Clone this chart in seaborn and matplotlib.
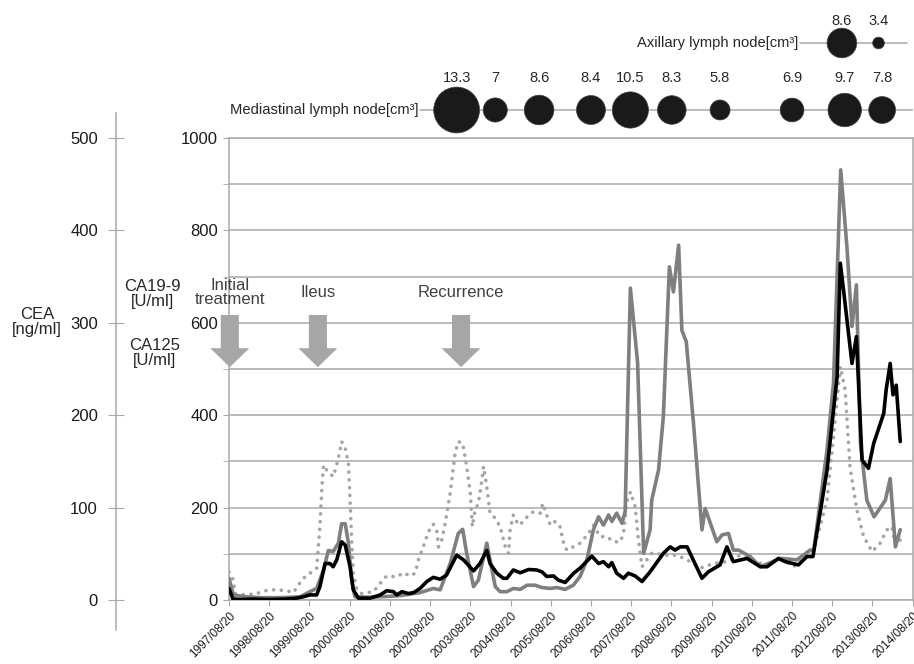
import seaborn as sns
import matplotlib.pyplot as plt

# time axis: years since the first visit (1997/08/20)
t_ca199 = [0.00, 0.11, 0.40, 0.80, 1.20, 1.60, 1.77, 2.01, 2.18, 2.35, 2.47, 2.59, 2.72, 2.80, 2.89, 2.97,
           3.05, 3.13, 3.50, 4.00, 4.30, 4.75, 5.08, 5.25, 5.50, 5.70, 5.81, 5.91, 6.08, 6.20, 6.41, 6.49,
           6.62, 6.74, 6.91, 7.07, 7.24, 7.41, 7.61, 7.78, 7.99, 8.15, 8.36, 8.56, 8.73, 8.90, 9.06, 9.19,
           9.31, 9.44, 9.52, 9.64, 9.77, 9.85, 9.98, 10.16, 10.31, 10.47, 10.51, 10.68, 10.80, 10.95, 11.05,
           11.18, 11.26, 11.37, 11.55, 11.76, 11.84, 12.13, 12.26, 12.42, 12.54, 12.67, 12.96, 13.21, 13.71,
           14.12, 14.45, 14.54, 14.87, 15.03, 15.21, 15.37, 15.49, 15.60, 15.70, 15.86, 16.04, 16.32, 16.44,
           16.57, 16.69]
ca199 = [47, 11, 7, 5, 5, 6, 7, 18, 25, 65, 107, 105, 123, 165, 165, 123,
         43, 7, 6, 8, 10, 16, 25, 22, 79, 144, 153, 101, 29, 43, 123, 87,
         29, 18, 18, 25, 23, 32, 32, 27, 25, 27, 23, 32, 51, 87, 152, 180,
         162, 184, 170, 188, 166, 191, 675, 513, 101, 152, 216, 281, 397, 721, 667,
         768, 584, 559, 382, 152, 198, 126, 141, 144, 108, 108, 94, 72, 90,
         87, 108, 108, 325, 469, 931, 758, 592, 682, 339, 216, 180, 216, 263,
         115, 152]

t_ca125 = [0.00, 0.11, 0.15, 0.40, 0.69, 0.98, 1.20, 1.44, 1.60, 1.72, 1.85, 2.06, 2.18, 2.26, 2.31, 2.35,
           2.43, 2.51, 2.59, 2.64, 2.72, 2.80, 2.89, 2.97, 3.01, 3.05, 3.09, 3.18, 3.30, 3.59, 3.76, 3.92,
           4.17, 4.34, 4.50, 4.63, 4.71, 4.83, 4.96, 5.08, 5.17, 5.21, 5.29, 5.37, 5.50, 5.62, 5.70, 5.81,
           5.91, 6.00, 6.05, 6.12, 6.20, 6.29, 6.33, 6.41, 6.49, 6.62, 6.74, 6.87, 6.95, 6.99, 7.07, 7.20,
           7.32, 7.45, 7.57, 7.74, 7.80, 7.90, 7.99, 8.11, 8.23, 8.32, 8.40, 8.56, 8.73, 8.94, 9.06, 9.23,
           9.40, 9.56, 9.73, 9.81, 9.89, 9.98, 10.10, 10.18, 10.27, 10.39, 10.51, 10.64, 10.80, 11.14, 11.39,
           11.72, 12.05, 12.38, 12.71, 13.04, 13.38, 13.71, 14.04, 14.37, 14.54, 14.87, 15.03, 15.20, 15.32,
           15.44, 15.61, 15.78, 15.99, 16.19, 16.36, 16.48, 16.57, 16.69]
ca125 = [61, 43, 14, 11, 14, 22, 22, 20, 16, 32, 47, 61, 69, 159, 245, 292,
         281, 274, 267, 281, 307, 343, 328, 296, 216, 130, 58, 22, 14, 18, 36, 52,
         50, 59, 52, 58, 87, 115, 148, 164, 148, 115, 130, 164, 231, 317, 343, 339,
         289, 231, 159, 195, 209, 260, 289, 245, 188, 177, 159, 115, 101, 152, 184, 162,
         170, 184, 191, 188, 209, 184, 162, 170, 159, 123, 108, 115, 123, 144, 162, 137,
         137, 126, 126, 144, 213, 234, 202, 130, 72, 87, 101, 101, 97, 97, 87,
         69, 79, 83, 97, 83, 76, 90, 72, 101, 108, 216, 353, 505, 455,
         289, 195, 137, 105, 123, 152, 159, 119, 130]

t_cea = [0.00, 0.10, 0.30, 0.60, 1.00, 1.40, 1.68, 1.85, 2.01, 2.18, 2.26, 2.39, 2.51, 2.59, 2.68, 2.80,
         2.89, 3.01, 3.09, 3.22, 3.51, 3.76, 3.92, 4.09, 4.17, 4.30, 4.46, 4.59, 4.75, 4.92, 5.08, 5.25,
         5.41, 5.66, 5.83, 6.08, 6.24, 6.41, 6.49, 6.66, 6.82, 6.91, 7.07, 7.24, 7.45, 7.65, 7.78, 7.90,
         8.07, 8.19, 8.36, 8.57, 8.73, 9.02, 9.19, 9.31, 9.44, 9.52, 9.64, 9.81, 9.93, 10.10, 10.27, 10.47,
         10.80, 10.97, 11.09, 11.22, 11.39, 11.76, 11.92, 12.21, 12.38, 12.54, 12.88, 13.21, 13.38, 13.66,
         13.83, 14.16, 14.37, 14.52, 14.87, 15.12, 15.20, 15.28, 15.49, 15.60, 15.74, 15.90, 16.03, 16.28,
         16.34, 16.44, 16.51, 16.59, 16.69]
cea = [12.5, 1, 0.5, 1, 0.5, 1, 2, 3.5, 5.5, 5.5, 14.5, 39.5, 39.5, 36, 43.5, 63,
       59.5, 36, 11, 2, 2, 5.5, 10, 9, 5.5, 9, 7, 8, 12.5, 20, 24.5, 22.5,
       27, 48.5, 43.5, 31.5, 39.5, 53.5, 39.5, 29, 23.5, 23.5, 32.5, 29.5, 33, 32.5, 30.5, 25.5,
       26, 21.5, 19, 29, 34.5, 47.5, 39.5, 41.5, 36, 40.5, 29, 23.5, 29, 26, 20, 30.5,
       50.5, 57.5, 54, 57.5, 57.5, 23.5, 30.5, 38, 57.5, 41.5, 45, 36, 36, 45,
       41.5, 38, 47, 47, 140.5, 241.5, 364.5, 335.5, 256, 285, 151.5, 142.5, 169.5, 202,
       227.5, 256, 222, 232.5, 171.5]

year_labels = [f"{y}/08/20" for y in range(1997, 2015)]

# lymph node volumes (cm3) from imaging
med_t = [5.66, 6.62, 7.71, 9.00, 9.98, 11.01, 12.21, 14.00, 15.31, 16.24]
med_vol = [13.3, 7, 8.6, 8.4, 10.5, 8.3, 5.8, 6.9, 9.7, 7.8]
axl_t = [15.24, 16.15]
axl_vol = [8.6, 3.4]

event_t = [0.02, 2.21, 5.77]
event_labels = ["Initial\ntreatment", "Ileus", "Recurrence"]

sns.set_style("white")
plt.rcParams['font.family'] = ['Liberation Sans', 'DejaVu Sans']

W, H = 914, 664
GRID = '#a8a8a8'


def px_box(x0, y0, x1, y1):
    # pixel box (from top-left) -> figure fraction rect
    return [x0 / W, 1 - y1 / H, (x1 - x0) / W, (y1 - y0) / H]


fig = plt.figure(figsize=(W / 100, H / 100), dpi=100)

# main axis: CA19-9 / CA125
ax = fig.add_axes(px_box(229, 138, 912.7, 600))
ax.set_xlim(0, 17)
ax.set_ylim(0, 1000)
ax.set_yticks(range(0, 1001, 200))
ax.set_yticks(range(100, 1000, 200), minor=True)
ax.grid(axis='y', which='both', color=GRID, lw=1.1)
ax.set_axisbelow(True)
for s in ax.spines.values():
    s.set_color(GRID)
    s.set_linewidth(1.1)
ax.tick_params(axis='y', which='both', direction='out', length=4, color=GRID,
               labelsize=12, pad=4, left=True, labelcolor='#1a1a1a')
ax.set_xticks(range(18))
ax.set_xticklabels(year_labels, rotation=45, ha='right', va='top', rotation_mode='anchor')
ax.tick_params(axis='x', direction='out', length=4, color=GRID, labelsize=8.5, pad=3, bottom=True,
               labelcolor='#1a1a1a')

sns.lineplot(x=t_ca125, y=ca125, ax=ax, color='#a5a5a5', lw=2.6,
             linestyle=(0, (0.05, 2.1)), dash_capstyle='round', zorder=3)
sns.lineplot(x=t_ca199, y=ca199, ax=ax, color='#7f7f7f', lw=2.6, zorder=4)
ax.set_xlabel('')
ax.set_ylabel('')

# events
for t, lab in zip(event_t, event_labels):
    ax.arrow(t, 617, 0, -113, width=0.45, head_width=0.97, head_length=41,
             length_includes_head=True, color='#a6a6a6', lw=0, zorder=2, clip_on=False)
    ax.text(t, 665, lab, ha='center', va='center', fontsize=12, color='#404040',
            linespacing=0.95, zorder=5)

# CEA on its own scale (0-500, same grid)
ax2 = ax.twinx()
ax2.set_ylim(0, 500)
ax2.axis('off')
sns.lineplot(x=t_cea, y=cea, ax=ax2, color='black', lw=2.6, zorder=5)

# separate left axis for CEA
axc = fig.add_axes(px_box(116, 113, 117, 630))
axc.set_ylim(-32.5, 527.1)
axc.set_yticks(range(0, 501, 100))
axc.set_xticks([])
axc.patch.set_visible(False)
for k in ['top', 'right', 'bottom']:
    axc.spines[k].set_visible(False)
axc.spines['left'].set_color(GRID)
axc.spines['left'].set_linewidth(1.1)
axc.tick_params(axis='y', direction='inout', length=12, pad=7, color=GRID, labelsize=12, left=True,
                labelcolor='#1a1a1a')

fig.text(37 / W, 1 - 322 / H, "CEA\n[ng/ml]", ha='center', va='center', fontsize=12, linespacing=1.0)
fig.text(152 / W, 1 - 294 / H, "CA19-9\n[U/ml]", ha='center', va='center', fontsize=12, linespacing=0.95)
fig.text(155 / W, 1 - 353 / H, "CA125\n[U/ml]", ha='center', va='center', fontsize=12, linespacing=0.95)

# lymph node bubbles above the plot
axb = fig.add_axes(px_box(229, 0, 912.7, 138))
axb.set_xlim(0, 17)
axb.set_ylim(138, 0)
axb.axis('off')

axb.plot([4.75, 17], [110, 110], color=GRID, lw=1.1, zorder=1)
axb.text(4.70, 110, "Mediastinal lymph node[cm³]", ha='right', va='center', fontsize=10.6)
sns.scatterplot(x=med_t, y=[110] * len(med_t), s=[(2.484 * v) ** 2 for v in med_vol],
                color='#1a1a1a', edgecolor='#444444', linewidth=0.5, ax=axb, zorder=3, legend=False)
for t, v in zip(med_t, med_vol):
    axb.text(t, 78, f"{v:g}", ha='center', va='center', fontsize=10.5)

axb.plot([14.2, 16.87], [43, 43], color=GRID, lw=1.1, zorder=1)
axb.text(14.15, 43, "Axillary lymph node[cm³]", ha='right', va='center', fontsize=10.6)
sns.scatterplot(x=axl_t, y=[43] * len(axl_t), s=[(2.484 * v) ** 2 for v in axl_vol],
                color='#1a1a1a', edgecolor='#444444', linewidth=0.5, ax=axb, zorder=3, legend=False)
for t, v in zip(axl_t, axl_vol):
    axb.text(t, 21, f"{v:g}", ha='center', va='center', fontsize=10.5)
axb.set_xlim(0, 17)
axb.set_ylim(138, 0)

fig.savefig("out.png", dpi=100)
